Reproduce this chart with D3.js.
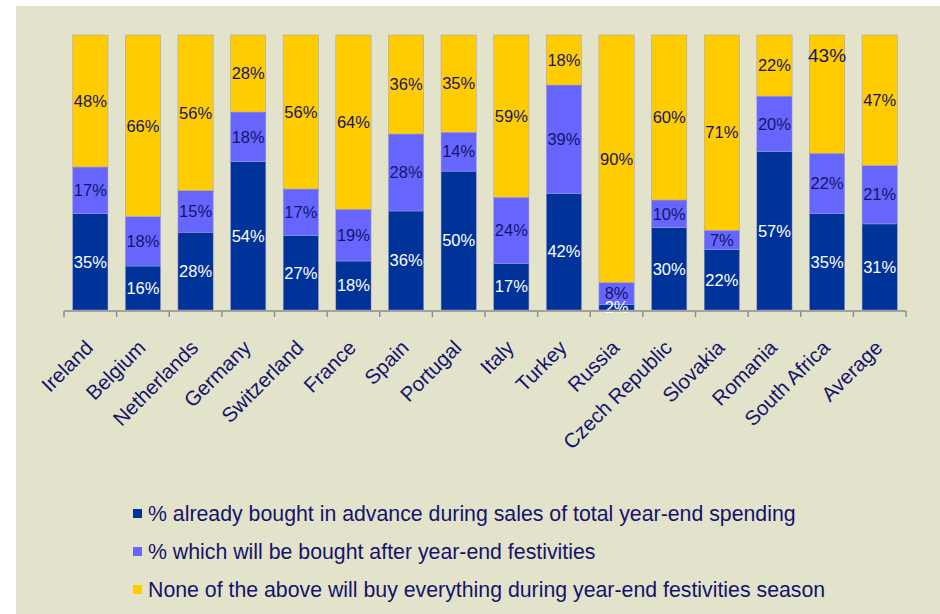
<!DOCTYPE html>
<html>
<head>
<meta charset="utf-8">
<script src="https://cdn.jsdelivr.net/npm/d3@7"></script>
<style>
  body { margin: 0; background: #fff; }
  svg { display: block; font-family: Arial, "Liberation Sans", sans-serif; }
</style>
</head>
<body>
<div id="chart"></div>
<script>
const countries = ["Ireland", "Belgium", "Netherlands", "Germany", "Switzerland", "France", "Spain", "Portugal",
  "Italy", "Turkey", "Russia", "Czech Republic", "Slovakia", "Romania", "South Africa", "Average"]
const advance = [35, 16, 28, 54, 27, 18, 36, 50, 17, 42, 2, 30, 22, 57, 35, 31]
const after = [17, 18, 15, 18, 17, 19, 28, 14, 24, 39, 8, 10, 7, 20, 22, 21]
const none = [48, 66, 56, 28, 56, 64, 36, 35, 59, 18, 90, 60, 71, 22, 43, 47]
const seriesNames = [
  "% already bought in advance during sales of total year-end spending",
  "% which will be bought after year-end festivities",
  "None of the above will buy everything during year-end festivities season"
]
// label on the original sits high in this bar
const raisedLabel = "South Africa"

const colors = ["#003399", "#6666ff", "#ffcc00"]
const labelColors = ["#ffffff", "#14146b", "#14146b"]

const W = 940, H = 614
const margin = {top: 35, left: 64, right: 34, bottom: 304}
const keys = ["advance", "after", "none"]
const rows = countries.map((c, i) => ({country: c, advance: advance[i], after: after[i], none: none[i]}))

const series = d3.stack().keys(keys).offset(d3.stackOffsetExpand)(rows)

const x = d3.scaleBand(countries, [margin.left, W - margin.right])
  .paddingInner(0.33).paddingOuter(0.165)
const y = d3.scaleLinear([0, 1], [H - margin.bottom, margin.top])

const svg = d3.select("#chart").append("svg")
  .attr("width", W).attr("height", H)

svg.append("rect")
  .attr("x", 16).attr("y", 6)
  .attr("width", W - 16).attr("height", H - 6)
  .attr("fill", "#e3e3cb")

const layer = svg.append("g")
  .selectAll("g")
  .data(series)
  .join("g")
    .attr("fill", (d, i) => colors[i])

layer.selectAll("rect")
  .data(d => d)
  .join("rect")
    .attr("x", d => x(d.data.country))
    .attr("width", x.bandwidth())
    .attr("y", d => y(d[1]))
    .attr("height", d => y(d[0]) - y(d[1]))
    .attr("stroke", "#9c9cd0")
    .attr("stroke-width", 0.5)

// value labels
svg.append("g")
    .attr("text-anchor", "middle")
  .selectAll("g")
  .data(series)
  .join("g")
    .attr("fill", (d, i) => labelColors[i])
  .selectAll("text")
  .data((s, i) => s.map(d => ({d, key: s.key, i})))
  .join("text")
    .attr("x", ({d}) => x(d.data.country) + x.bandwidth() / 2)
    .attr("y", ({d, i}) => d.data.country === raisedLabel && i === 2
      ? y(d[1]) + 20 : (y(d[0]) + y(d[1])) / 2)
    .attr("dy", "0.35em")
    .attr("font-size", ({d, i}) => d.data.country === raisedLabel && i === 2 ? 19 : 16.5)
    .text(({d, key}) => d.data[key] + "%")

// x axis line with ticks at band boundaries
const base = y(0) + 1
const axis = svg.append("g").attr("stroke", "#8c8c8c").attr("stroke-width", 1.5)
axis.append("line")
  .attr("x1", margin.left).attr("x2", W - margin.right)
  .attr("y1", base).attr("y2", base)
const bounds = countries.map(c => x(c) - x.step() * x.paddingInner() / 2)
  .concat([W - margin.right])
axis.selectAll(".tick")
  .data(bounds)
  .join("line")
    .attr("class", "tick")
    .attr("x1", d => d).attr("x2", d => d)
    .attr("y1", base).attr("y2", base + 6)

// category labels
svg.append("g")
    .attr("fill", "#14146b")
    .attr("font-size", 20.5)
    .attr("text-anchor", "end")
  .selectAll("text")
  .data(countries)
  .join("text")
    .attr("transform", d => `translate(${x(d) + x.bandwidth() / 2 + 4},${base + 38}) rotate(-45)`)
    .text(d => d)

// legend
const legend = svg.append("g")
  .selectAll("g")
  .data(seriesNames)
  .join("g")
    .attr("transform", (d, i) => `translate(133,${514 + i * 38})`)
legend.append("rect")
  .attr("x", 0).attr("y", -5)
  .attr("width", 9).attr("height", 9)
  .attr("fill", (d, i) => colors[i])
legend.append("text")
  .attr("x", 15).attr("dy", "0.35em")
  .attr("font-size", 21.3)
  .attr("fill", "#14146b")
  .text(d => d)
</script>
</body>
</html>
